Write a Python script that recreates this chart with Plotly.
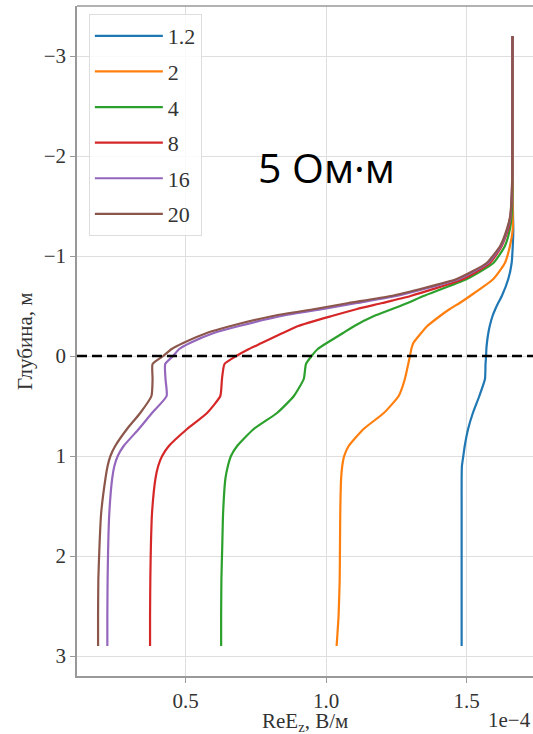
import plotly.graph_objects as go

# Depth (m), shared by all curves
depth = [-3.2, -1.8, -1.6, -1.4, -1.27, -1.1, -0.93, -0.77, -0.6, -0.53, -0.47, -0.4,
         -0.3, -0.23, -0.13, -0.07, 0.0, 0.08, 0.23, 0.4, 0.57, 0.73, 0.9, 1.0, 1.1,
         1.23, 1.57, 1.9, 2.23, 2.6, 2.9]

# ReEz values in units of 1e-4 V/m
s_1_2 = [1.664, 1.664, 1.664, 1.665, 1.666, 1.664, 1.66, 1.648, 1.625, 1.612, 1.602, 1.592,
         1.582, 1.577, 1.572, 1.57, 1.569, 1.567, 1.565, 1.545, 1.522, 1.505, 1.493, 1.488, 1.483,
         1.482, 1.482, 1.482, 1.482, 1.482, 1.482]
s_2 = [1.663, 1.663, 1.663, 1.664, 1.664, 1.654, 1.636, 1.595, 1.512, 1.475, 1.44, 1.405,
       1.36, 1.338, 1.31, 1.303, 1.298, 1.292, 1.28, 1.258, 1.205, 1.133, 1.08, 1.064, 1.057,
       1.053, 1.05, 1.049, 1.048, 1.044, 1.037]
s_4 = [1.663, 1.662, 1.662, 1.66, 1.654, 1.636, 1.595, 1.5, 1.346, 1.29, 1.235, 1.17,
       1.1, 1.06, 1.002, 0.97, 0.948, 0.928, 0.92, 0.885, 0.825, 0.742, 0.683, 0.661, 0.65,
       0.641, 0.633, 0.63, 0.627, 0.626, 0.626]
s_8 = [1.663, 1.662, 1.661, 1.656, 1.648, 1.625, 1.583, 1.488, 1.3, 1.2, 1.11, 1.02,
       0.9, 0.845, 0.77, 0.725, 0.68, 0.638, 0.629, 0.623, 0.576, 0.505, 0.44, 0.416, 0.402,
       0.392, 0.38, 0.376, 0.374, 0.373, 0.373]
s_16 = [1.663, 1.662, 1.66, 1.656, 1.645, 1.622, 1.576, 1.472, 1.25, 1.11, 0.99, 0.84,
        0.69, 0.6, 0.515, 0.477, 0.455, 0.427, 0.428, 0.432, 0.38, 0.333, 0.279, 0.258, 0.246,
        0.238, 0.228, 0.224, 0.222, 0.221, 0.221]
s_20 = [1.663, 1.662, 1.66, 1.655, 1.643, 1.619, 1.571, 1.464, 1.23, 1.08, 0.96, 0.81,
        0.66, 0.575, 0.491, 0.45, 0.42, 0.382, 0.382, 0.378, 0.338, 0.291, 0.249, 0.232, 0.222,
        0.214, 0.199, 0.193, 0.189, 0.188, 0.188]

series_names = ["1.2", "2", "4", "8", "16", "20"]
series_values = [s_1_2, s_2, s_4, s_8, s_16, s_20]
colors = ["#1f77b4", "#ff7f0e", "#2ca02c", "#d62728", "#9467bd", "#8c564b"]

x_ticks = [0.5, 1.0, 1.5]
x_tick_labels = ["0.5", "1.0", "1.5"]
y_ticks = [-3, -2, -1, 0, 1, 2, 3]
surface_depth = 0

serif = "Liberation Serif"
txt_color = "#333333"

fig = go.Figure()
for name, vals, col in zip(series_names, series_values, colors):
    fig.add_trace(go.Scatter(
        x=vals, y=depth, mode="lines", name=name, legendgroup=name,
        line=dict(color=col, width=2.2, shape="spline", smoothing=0.5),
    ))

fig.add_shape(type="line", xref="paper", x0=0, x1=1, yref="y",
              y0=surface_depth, y1=surface_depth,
              line=dict(color="black", width=2.5, dash="10px,5px"))

fig.add_annotation(text="5 Ом·м", xref="paper", yref="paper", x=0.548, y=0.76,
                   showarrow=False, xanchor="center", yanchor="middle",
                   font=dict(family="Open Sans", size=41, color="black"))
fig.add_annotation(text="1e−4", xref="paper", yref="paper", x=1.0, y=-0.066,
                   showarrow=False, xanchor="right", yanchor="middle",
                   font=dict(family=serif, size=21, color=txt_color))
fig.add_annotation(text="ReE<sub>z</sub>, В/м", xref="paper", yref="paper", x=0.5, y=-0.069,
                   showarrow=False, xanchor="center", yanchor="middle",
                   font=dict(family=serif, size=21, color=txt_color))
fig.add_annotation(text="Глубина, м", xref="paper", yref="paper", x=-0.114, y=0.5,
                   showarrow=False, textangle=-90, xanchor="center", yanchor="middle",
                   font=dict(family=serif, size=21, color=txt_color))

fig.update_layout(
    width=533, height=734,
    margin=dict(l=77, r=0, t=6, b=58),
    paper_bgcolor="white", plot_bgcolor="white",
    showlegend=True,
    legend=dict(x=0.026, y=0.988, xanchor="left", yanchor="top",
                bgcolor="rgba(255,255,255,0.85)", bordercolor="#dddddd", borderwidth=1,
                font=dict(family=serif, size=22, color=txt_color),
                tracegroupgap=4, itemwidth=68, traceorder="grouped"),
    xaxis=dict(range=[0.113, 1.736], tickvals=x_ticks, ticktext=x_tick_labels,
               showgrid=True, gridcolor="#dedede", gridwidth=1,
               showline=True, linecolor="#999999", linewidth=1.5, mirror=False,
               ticks="outside", ticklen=5, tickcolor="#999999",
               tickfont=dict(family=serif, size=21, color=txt_color),
               zeroline=False, automargin=False),
    yaxis=dict(range=[3.2, -3.5], tickvals=y_ticks,
               showgrid=True, gridcolor="#dedede", gridwidth=1,
               showline=True, linecolor="#999999", linewidth=1.5,
               ticks="outside", ticklen=5, tickcolor="#999999",
               tickfont=dict(family=serif, size=21, color=txt_color),
               zeroline=False, automargin=False),
)
# top spine
fig.add_shape(type="line", xref="paper", yref="paper", x0=0, x1=1, y0=1, y1=1,
              line=dict(color="#999999", width=1.5))

fig.write_html("out.html", config={"displayModeBar": False},
               post_script="document.body.style.margin='0';document.body.style.overflow='hidden';")
